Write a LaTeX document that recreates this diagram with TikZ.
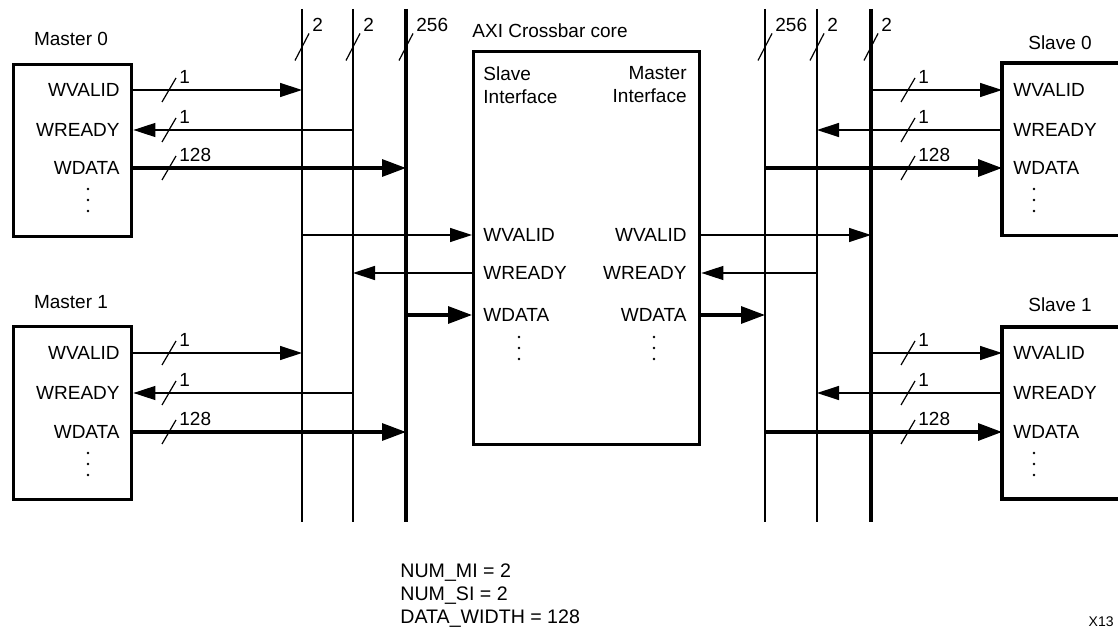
\documentclass[tikz,border=0pt]{standalone}
\usepackage{fontspec}
\setmainfont{Liberation Sans}
\usetikzlibrary{arrows.meta}

\tikzset{
  blk/.style={draw, line width=1.7pt, inner sep=0pt},
  sig/.style={line width=0.65pt, -{Triangle[length=11pt,width=7pt]}},
  dat/.style={line width=1.6pt, -{Triangle[length=12pt,width=8.5pt]}},
  bus/.style={line width=1pt},
  wbus/.style={line width=2pt},
  lbl/.style={inner sep=0pt, font=\fontsize{9.5}{11.5}\selectfont},
  pics/cut/.style={code={
    \draw[line width=0.6pt] (-7,12) -- (7,-12);
    \node[lbl, anchor=west] at (10,-13) {#1};}},
  pics/bcut/.style={code={
    \draw[line width=0.6pt] (-7,13.5) -- (7,-13.5);
    \node[lbl, anchor=west] at (10,-22) {#1};}},
  pics/dots/.style={code={
    \foreach \d in {0,11,22} \fill (0,\d) circle[radius=1.3];}}
}

\begin{document}
\begin{tikzpicture}[x=0.5pt, y=-0.5pt]
  \useasboundingbox (0,0) rectangle (1118,630);

  % buses
  \coordinate (ma) at (302,9);
  \coordinate (mr) at (353,9);
  \coordinate (md) at (406,9);
  \coordinate (sd) at (765,9);
  \coordinate (sr) at (817,9);
  \coordinate (sv) at (871,9);
  \coordinate (bot) at (0,522);
  \foreach \b in {ma,mr,sd,sr} \draw[bus] (\b) -- (\b |- bot);
  \foreach \b in {md,sv} \draw[wbus] (\b) -- (\b |- bot);
  \pic at (302,47) {bcut=2};
  \pic at (353,47) {bcut=2};
  \pic at (406,47) {bcut=256};
  \pic at (765,47) {bcut=256};
  \pic at (817,47) {bcut=2};
  \pic at (871,47) {bcut=2};

  % masters
  \node[blk, anchor=north west, minimum width=59pt, minimum height=86pt] (m0) at (12,63) {};
  \node[lbl] at (71,39) {Master 0};
  \node[lbl, anchor=east] (m0v) at (120,90) {WVALID};
  \node[lbl, anchor=east] (m0r) at (120,130) {WREADY};
  \node[lbl, anchor=east] (m0d) at (120,168) {WDATA};
  \pic at (88,189) {dots};
  \draw[sig] (m0.east |- m0v) -- (ma |- m0v);
  \draw[sig] (mr |- m0r) -- (m0.east |- m0r);
  \draw[dat] (m0.east |- m0d) -- (md |- m0d);
  \pic at (169,90) {cut=1};
  \pic at (169,130) {cut=1};
  \pic at (169,168) {cut=128};

  \node[blk, anchor=north west, minimum width=59pt, minimum height=86.5pt] (m1) at (12,325) {};
  \node[lbl] at (71,302) {Master 1};
  \node[lbl, anchor=east] (m1v) at (120,353) {WVALID};
  \node[lbl, anchor=east] (m1r) at (120,393) {WREADY};
  \node[lbl, anchor=east] (m1d) at (120,432) {WDATA};
  \pic at (88,453) {dots};
  \draw[sig] (m1.east |- m1v) -- (ma |- m1v);
  \draw[sig] (mr |- m1r) -- (m1.east |- m1r);
  \draw[dat] (m1.east |- m1d) -- (md |- m1d);
  \pic at (169,353) {cut=1};
  \pic at (169,393) {cut=1};
  \pic at (169,432) {cut=128};

  % crossbar
  \node[blk, anchor=north west, minimum width=113pt, minimum height=196.5pt] (xb) at (472,50) {};
  \node[lbl, anchor=west] at (472,31) {AXI Crossbar core};
  \node[lbl, anchor=north west, align=left] at (483,66) {Slave\\Interface};
  \node[lbl, anchor=north east, align=right] at (687,66) {Master\\Interface};
  \node[lbl, anchor=west] (xsv) at (483,235) {WVALID};
  \node[lbl, anchor=west] (xsr) at (483,273) {WREADY};
  \node[lbl, anchor=west] (xsd) at (483,315) {WDATA};
  \node[lbl, anchor=east] (xmv) at (687,235) {WVALID};
  \node[lbl, anchor=east] (xmr) at (687,273) {WREADY};
  \node[lbl, anchor=east] (xmd) at (687,315) {WDATA};
  \pic at (519,337) {dots};
  \pic at (654,337) {dots};
  \draw[sig] (ma |- xsv) -- (xb.west |- xsv);
  \draw[sig] (xb.west |- xsr) -- (mr |- xsr);
  \draw[dat] (md |- xsd) -- (xb.west |- xsd);
  \draw[sig] (xb.east |- xmv) -- (sv |- xmv);
  \draw[sig] (sr |- xmr) -- (xb.east |- xmr);
  \draw[dat] (xb.east |- xmd) -- (sd |- xmd);

  % slaves
  \node[inner sep=0pt, anchor=north west, minimum width=58pt, minimum height=86pt] (s0) at (1002,63) {};
  \draw[line width=1.7pt] (s0.north east) -- (s0.north west) -- (s0.south west) -- (s0.south east);
  \node[lbl] at (1060,43) {Slave 0};
  \node[lbl, anchor=west] (s0v) at (1013,90) {WVALID};
  \node[lbl, anchor=west] (s0r) at (1013,130) {WREADY};
  \node[lbl, anchor=west] (s0d) at (1013,168) {WDATA};
  \pic at (1034,189) {dots};
  \draw[sig] (sv |- s0v) -- (s0.west |- s0v);
  \draw[sig] (s0.west |- s0r) -- (sr |- s0r);
  \draw[dat] (sd |- s0d) -- (s0.west |- s0d);
  \pic at (908,90) {cut=1};
  \pic at (908,130) {cut=1};
  \pic at (908,168) {cut=128};

  \node[inner sep=0pt, anchor=north west, minimum width=58pt, minimum height=85.5pt] (s1) at (1002,327) {};
  \draw[line width=1.7pt] (s1.north east) -- (s1.north west) -- (s1.south west) -- (s1.south east);
  \node[lbl] at (1060,305) {Slave 1};
  \node[lbl, anchor=west] (s1v) at (1013,353) {WVALID};
  \node[lbl, anchor=west] (s1r) at (1013,393) {WREADY};
  \node[lbl, anchor=west] (s1d) at (1013,432) {WDATA};
  \pic at (1034,453) {dots};
  \draw[sig] (sv |- s1v) -- (s1.west |- s1v);
  \draw[sig] (s1.west |- s1r) -- (sr |- s1r);
  \draw[dat] (sd |- s1d) -- (s1.west |- s1d);
  \pic at (908,353) {cut=1};
  \pic at (908,393) {cut=1};
  \pic at (908,432) {cut=128};

  % parameters
  \node[lbl, anchor=north west, align=left, font=\fontsize{9.8}{11.5}\selectfont] (par) at (400,563)
    {NUM\_MI = 2\\NUM\_SI = 2\\DATA\_WIDTH = 128};
  \node[lbl, anchor=south east, font=\fontsize{7}{8}\selectfont] (fig) at (1114,627) {X13};
\end{tikzpicture}
\end{document}
